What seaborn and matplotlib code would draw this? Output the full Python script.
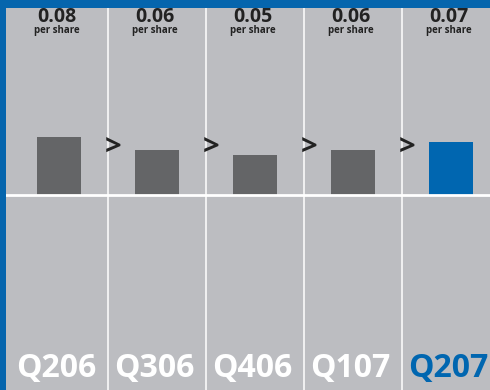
import numpy as np
import matplotlib.pyplot as plt
import seaborn as sns

quarters = ["Q206", "Q306", "Q406", "Q107", "Q207"]
eps = [0.079, 0.061, 0.054, 0.061, 0.072]   # bar heights
eps_labels = ["0.08", "0.06", "0.05", "0.06", "0.07"]
bar_colors = ["#646567", "#646567", "#646567", "#646567", "#0066b0"]
label_colors = ["white", "white", "white", "white", "#0066b0"]

frame_blue = "#0565ad"
panel_gray = "#bcbdc1"

plt.rcParams['font.family'] = ['Open Sans', 'DejaVu Sans']

fig = plt.figure(figsize=(4.9, 3.9), dpi=100)
fig.patch.set_facecolor(frame_blue)
ax = fig.add_axes([6 / 490, 0, 484 / 490, 382 / 390])
ax.set_facecolor(panel_gray)

sns.barplot(x=quarters, y=eps, hue=quarters, palette=bar_colors,
            legend=False, width=0.45, saturation=1, ax=ax)

# scale: ~734 px per unit, zero line 187 px below the top of the panel
ax.set_ylim(-195 / 734, 187 / 734)
ax.set_xlim(-53 / 98, 431 / 98)

trans = ax.get_xaxis_transform()

ax.axhline(0, color="white", lw=2, zorder=3)
for i in range(len(quarters) - 1):
    ax.axvline(i + 0.5, color="white", lw=1.1, zorder=3)
    ax.text(i + 0.55, 1 - 140 / 382, ">", ha="center", va="center", fontsize=21,
            fontweight="bold", color="#222222", transform=trans, zorder=4)

for i, (lab, q) in enumerate(zip(eps_labels, quarters)):
    ax.text(i - 0.02, 1 - 8.5 / 382, lab, ha="center", va="center", fontsize=14,
            fontweight="bold", color="#222222", transform=trans)
    ax.text(i - 0.02, 1 - 23 / 382, "per share", ha="center", va="center",
            fontsize=7, fontweight="bold", color="#222222", transform=trans)
    ax.text(i - 0.03, 22 / 382, q, ha="center", va="center", fontsize=23,
            fontweight="bold", color=label_colors[i], transform=trans)

ax.set_xticks([])
ax.set_yticks([])
ax.set_xlabel("")
ax.set_ylabel("")
for spine in ax.spines.values():
    spine.set_visible(False)

plt.savefig("out.png", dpi=100, facecolor=frame_blue)
